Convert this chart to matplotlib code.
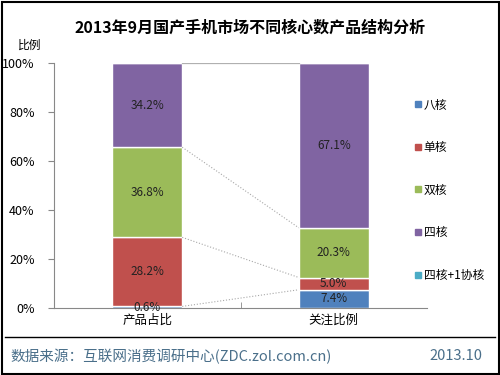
import matplotlib.pyplot as plt
from matplotlib.patches import Rectangle
from matplotlib.lines import Line2D
from matplotlib.ticker import FuncFormatter

plt.rcParams['font.family'] = ['Noto Sans CJK SC', 'DejaVu Sans']

# data (percent)
groups = ['产品占比', '关注比例']
series = ['八核', '单核', '双核', '四核', '四核+1协核']
octa = [0.6, 7.4]
single = [28.2, 5.0]
dual = [36.8, 20.3]
quad = [34.2, 67.1]
quad_plus = [0.2, 0.2]
colors = ['#4F81BD', '#C0504D', '#9BBB59', '#8064A2', '#4BACC6']

values = [octa, single, dual, quad, quad_plus]

fig = plt.figure(figsize=(5, 3.75), dpi=100)
ax = fig.add_axes([0.108, 0.179, 0.746, 0.653])

x = [0, 1]
w = 0.375
bottoms = [0.0, 0.0]
tops = []
for name, vals, c in zip(series, values, colors):
    ax.bar(x, vals, width=w, bottom=bottoms, color=c, edgecolor='white', linewidth=1, label=name)
    for i in range(2):
        if name != '四核+1协核':
            ax.text(x[i], bottoms[i] + vals[i] / 2, '%.1f%%' % vals[i], ha='center', va='center',
                    fontsize=8.5, color='#222222')
    bottoms = [bottoms[i] + vals[i] for i in range(2)]
    tops.append(list(bottoms))

# series lines between the two stacks
for t in tops:
    if t[0] > 99:
        ax.plot([x[0] + w / 2, x[1] - w / 2], [100, 100], color='#b0b0b0', lw=0.8)
    else:
        ax.plot([x[0] + w / 2, x[1] - w / 2], t, color='#a8a8a8', lw=0.8, ls=':')

ax.set_xlim(-0.5, 1.5)
ax.set_ylim(0, 100)
ax.set_xticks([0.5], minor=True)
ax.set_xticks(x)
ax.set_xticklabels(groups, fontsize=9)
ax.tick_params(axis='x', which='major', length=0, pad=4)
ax.tick_params(axis='x', which='minor', length=4, direction='in', color='#888888')
ax.set_yticks([0, 20, 40, 60, 80, 100])
ax.yaxis.set_major_formatter(FuncFormatter(lambda v, p: '%d%%' % v))
ax.tick_params(axis='y', labelsize=9, length=4, color='#888888', direction='out', pad=10)
for s in ['top', 'right']:
    ax.spines[s].set_visible(False)
for s in ['left', 'bottom']:
    ax.spines[s].set_color('#888888')

handles = [Line2D([], [], marker='s', ls='', color=c, markersize=4) for c in colors]
fig.legend(handles, series, loc='center left', bbox_to_anchor=(0.805, 0.493), frameon=False,
           fontsize=8.5, labelspacing=2.5, handletextpad=0.1, handlelength=0.8)

fig.text(0.5, 0.927, '2013年9月国产手机市场不同核心数产品结构分析', ha='center', va='center',
         fontsize=11.5, fontweight='bold')
fig.text(0.06, 0.878, '比例', ha='center', va='center', fontsize=8.5)

# footer
fig.add_artist(Line2D([0.01, 0.99], [0.101, 0.101], color='black', lw=1))
fig.text(0.02, 0.05, '数据来源：互联网消费调研中心(ZDC.zol.com.cn)', fontsize=10.5, color='#4a6f8a',
         ha='left', va='center')
fig.text(0.965, 0.05, '2013.10', fontsize=10.5, color='#4a6f8a', ha='right', va='center')

fig.add_artist(Rectangle((0.003, 0.004), 0.994, 0.992, transform=fig.transFigure, fill=False,
                         edgecolor='black', lw=1.5))

fig.savefig('out.png', dpi=100)
